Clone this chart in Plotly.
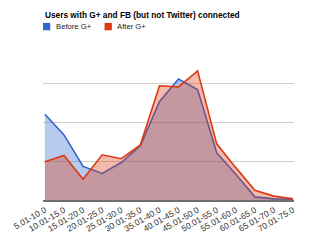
import plotly.graph_objects as go

categories = ["5.01-10.0", "10.01-15.0", "15.01-20.0", "20.01-25.0", "25.01-30.0",
              "30.01-35.0", "35.01-40.0", "40.01-45.0", "45.01-50.0", "50.01-55.0",
              "55.01-60.0", "60.01-65.0", "65.01-70.0", "70.01-75.0"]
before_g = [22.0, 16.7, 8.6, 6.8, 9.6, 13.9, 25.2, 31.0, 28.3, 12.1, 6.6, 0.8, 0.3, 0.2]
after_g = [9.8, 11.4, 5.3, 11.6, 10.6, 14.1, 29.3, 29.0, 33.1, 14.4, 8.3, 2.5, 1.0, 0.3]

BLUE = "#3366cc"
RED = "#dc3912"
W, H = 320, 246
ML, MR, MT, MB = 37, 26, 44, 43

fig = go.Figure()
fig.add_trace(go.Scatter(x=categories, y=before_g, mode="lines", name="Before G+",
                         line=dict(color=BLUE, width=1.6), fill="tozeroy",
                         fillcolor="rgba(51,102,204,0.35)", showlegend=False))
fig.add_trace(go.Scatter(x=categories, y=after_g, mode="lines", name="After G+",
                         line=dict(color=RED, width=1.6), fill="tozeroy",
                         fillcolor="rgba(220,57,18,0.35)", showlegend=False))

fig.update_layout(
    width=W, height=H,
    margin=dict(l=ML, r=MR, t=MT, b=MB),
    paper_bgcolor="white", plot_bgcolor="white",
    font=dict(family="Liberation Sans, Arial, sans-serif", color="#222"),
    xaxis=dict(type="category", range=[-0.1, 13.05], showgrid=False, ticks="",
               tickangle=-30, tickfont=dict(size=8.5, color="#333"),
               showline=True, linecolor="#6f6f6f", linewidth=2),
    yaxis=dict(range=[0, 40], dtick=10, showgrid=True, gridcolor="#d0d0d0",
               gridwidth=1, showticklabels=False, zeroline=False, showline=False),
    showlegend=False,
)


def py(px):
    return (H - MB - px) / (H - MT - MB)


def pxx(px):
    return (px - ML) / (W - ML - MR)


# Title
fig.add_annotation(text="<b>Users with G+ and FB (but not Twitter) connected</b>",
                   xref="paper", yref="paper", x=0, y=py(14),
                   xanchor="left", yanchor="middle", showarrow=False,
                   font=dict(size=8.3, color="#000"))

# Legend
legend_items = [("Before G+", BLUE, 37), ("After G+", RED, 100)]
for name, col, x0 in legend_items:
    fig.add_shape(type="rect", xref="paper", yref="paper",
                  x0=pxx(x0), x1=pxx(x0 + 7.5), y0=py(30), y1=py(22.5),
                  fillcolor=col, line=dict(width=0))
    fig.add_annotation(text=name, xref="paper", yref="paper", x=pxx(x0 + 11), y=py(26.5),
                       xanchor="left", yanchor="middle", showarrow=False,
                       font=dict(size=7.7, color="#222"))

fig.write_html("out.html")
